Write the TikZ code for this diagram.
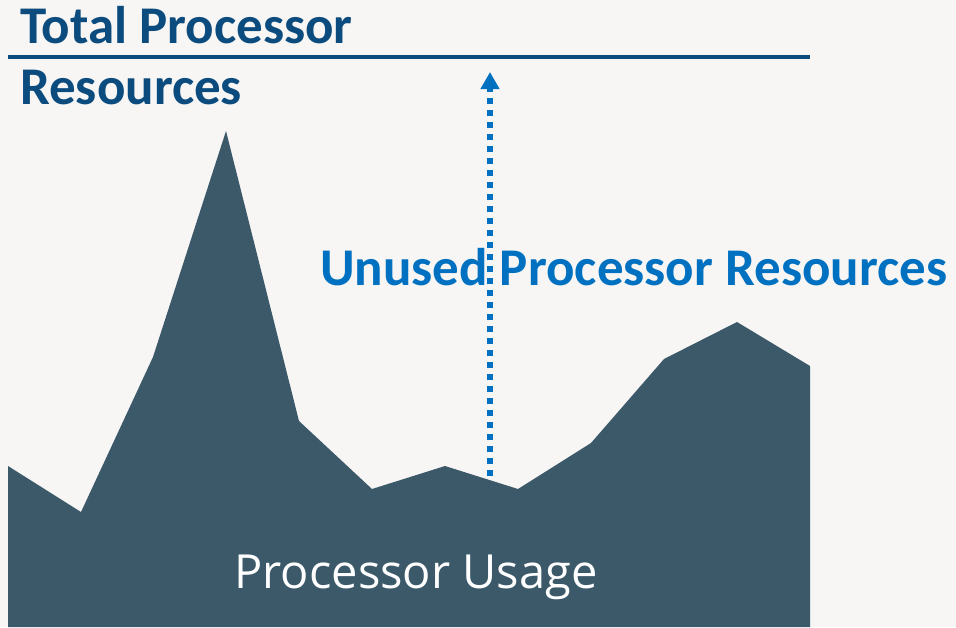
\documentclass[tikz,border=0pt]{standalone}
\usepackage{fontspec}
\setmainfont{Carlito}
\newfontfamily\usagefont{Open Sans}
\usetikzlibrary{arrows.meta}

\definecolor{paper}{HTML}{F7F6F4}
\definecolor{titleblue}{HTML}{0B4B7E}
\definecolor{unusedblue}{HTML}{0070C0}
\definecolor{usagefill}{HTML}{3C596A}

\tikzset{
  titletext/.style={anchor=base west,inner sep=0pt,text=titleblue,font=\bfseries\fontsize{53}{53}\selectfont},
  unusedtext/.style={anchor=base west,inner sep=0pt,text=unusedblue,font=\bfseries\fontsize{53}{53}\selectfont},
  usagetext/.style={anchor=base,inner sep=0pt,text=white,font=\usagefont\fontsize{47}{47}\selectfont},
  dotarrow/.style={unusedblue,line width=6pt,dash pattern=on 6pt off 6pt,-{Triangle[width=18pt,length=17pt]}}
}

\begin{document}
\begin{tikzpicture}[x=1pt,y=-1pt]
\fill [paper] (0,0) rectangle (956,627);
\useasboundingbox (0,0) rectangle (956,627);
% usage curve
\fill [usagefill] (8,466) -- (81,512) -- (153,357) -- (226,131) -- (299,421) -- (372,489)
  -- (445,466) -- (518,489) -- (591,443) -- (664,359) -- (737,322) -- (810,366)
  -- (810,627) -- (8,627) -- cycle;
\node [usagetext] (usage) at (416,588) {Processor Usage};
% total line
\coordinate (lineleft) at (8,57);
\coordinate (lineright) at (810,57);
\draw [titleblue,line width=4pt] (lineleft) -- (lineright);
\node [titletext] (total) at (20,43) {Total Processor};
\node [titletext] (resources) at (20,104) {Resources};
% unused
\node [unusedtext] (unused) at (320,285) {Unused Processor Resources};
\coordinate (gapbase) at (490,476);
\coordinate (gaptop) at (490,72);
\draw [dotarrow] (gapbase) -- (gaptop);
\end{tikzpicture}
\end{document}
